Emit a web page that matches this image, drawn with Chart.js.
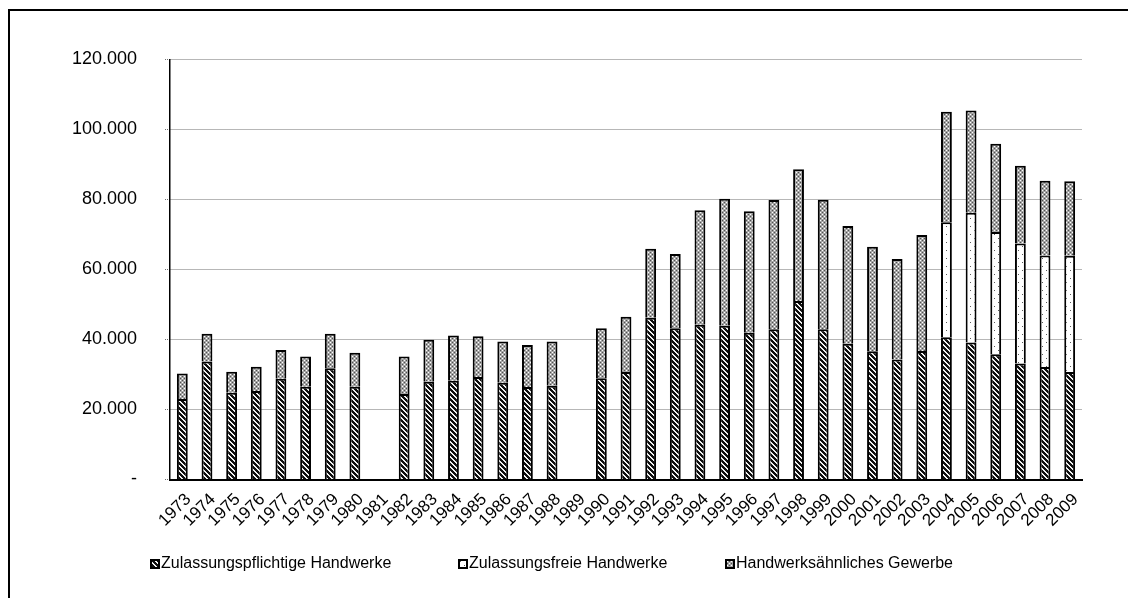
<!DOCTYPE html>
<html>
<head>
<meta charset="utf-8">
<script src="https://cdn.jsdelivr.net/npm/chart.js@4"></script>
<style>
  html, body { margin: 0; padding: 0; background: #fff; overflow: hidden; }
  #wrap { position: relative; width: 1128px; height: 598px; }
  #frame { position: absolute; left: 8px; top: 9px; width: 1300px; height: 800px;
           border-left: 2px solid #000; border-top: 2px solid #000; }
  canvas#chart { position: absolute; left: 0; top: 0; }
  .leg { position: absolute; top: 554px; font: 16px 'Liberation Sans', Arial, sans-serif;
         color: #000; white-space: nowrap; line-height: 18px; }
  .leg canvas { vertical-align: -1px; margin-right: 1px; }
</style>
</head>
<body>
<div id="wrap">
  <div id="frame"></div>
  <canvas id="chart" width="1128" height="598"></canvas>
</div>
<script>
// Jahre
const years = ['1973','1974','1975','1976','1977','1978','1979','1980','1981','1982',
  '1983','1984','1985','1986','1987','1988','1989','1990','1991','1992','1993','1994',
  '1995','1996','1997','1998','1999','2000','2001','2002','2003','2004','2005','2006',
  '2007','2008','2009'];

const pflichtig = [23000, 33700, 24800, 25300, 28800, 26500, 31800, 26500, null,
  24400, 27900, 28200, 29300, 27600, 26400, 26800, null,
  28900, 30700, 46200, 43200, 44200, 43900, 41900, 42900, 51000, 42900, 38800,
  36600, 34300, 36700, 40600, 39100, 35800, 33100, 32100, 30700];

const frei = [null, null, null, null, null, null, null, null, null, null,
  null, null, null, null, null, null, null, null, null, null, null, null,
  null, null, null, null, null, null, null, null, null,
  32900, 37100, 34900, 34300, 31900, 33200];

const aehnlich = [7300, 7900, 6000, 6900, 8200, 8600, 9800, 9700, null,
  10700, 12000, 12900, 11600, 11800, 12000, 12600, null,
  14300, 15800, 19700, 21200, 32700, 36300, 34700, 36900, 37600, 37000, 33600,
  29900, 28700, 33100, 31500, 29200, 25200, 22200, 21300, 21300];

const seriesNames = ['Zulassungspflichtige Handwerke', 'Zulassungsfreie Handwerke', 'Handwerksähnliches Gewerbe'];
const yTicks = [0, 20000, 40000, 60000, 80000, 100000, 120000];

// kleine Musterkacheln
function tile(size, fn) {
  const c = document.createElement('canvas');
  c.width = size; c.height = size;
  const cx = c.getContext('2d');
  const img = cx.createImageData(size, size);
  for (let y = 0; y < size; y++) {
    for (let x = 0; x < size; x++) {
      const v = fn(x, y);
      const i = (y * size + x) * 4;
      img.data[i] = img.data[i + 1] = img.data[i + 2] = v;
      img.data[i + 3] = 255;
    }
  }
  cx.putImageData(img, 0, 0);
  return c;
}

const stripeTile = tile(5, (x, y) => ((((x - y) % 5) + 5) % 5 < 3 ? 15 : 240));
const dotTile = tile(8, (x, y) => ((x === 2 && y === 2) || (x === 6 && y === 6)) ? 90 : 255);
const checkTile = tile(4, (x, y) => {
  if ((x === 0 && y === 0) || (x === 2 && y === 2)) return 255;
  if ((x === 2 && y === 0) || (x === 0 && y === 2)) return 80;
  return 165;
});

const ctx = document.getElementById('chart').getContext('2d');
const pStripe = ctx.createPattern(stripeTile, 'repeat');
const pDot = ctx.createPattern(dotTile, 'repeat');
const pCheck = ctx.createPattern(checkTile, 'repeat');

function fmt(v) {
  if (v === 0) return '-';
  return String(v).replace(/\B(?=(\d{3})+(?!\d))/g, '.');
}

const yFont = { family: "'Liberation Sans', Arial, sans-serif", size: 18 };
const xFont = { family: "'Liberation Sans', Arial, sans-serif", size: 17 };

const barStyle = {
  borderColor: '#000',
  borderWidth: 2,
  borderSkipped: 'start',
  barPercentage: 0.44,
  categoryPercentage: 1.0
};

new Chart(ctx, {
  type: 'bar',
  data: {
    labels: years,
    datasets: [
      { label: seriesNames[0], data: pflichtig, backgroundColor: pStripe, ...barStyle },
      { label: seriesNames[1], data: frei, backgroundColor: pDot, ...barStyle },
      { label: seriesNames[2], data: aehnlich, backgroundColor: pCheck, ...barStyle }
    ]
  },
  options: {
    responsive: false,
    animation: false,
    layout: { padding: { left: 0, right: 46, top: 59.3, bottom: 0 } },
    plugins: { legend: { display: false }, tooltip: { enabled: false } },
    scales: {
      x: {
        stacked: true,
        grid: { display: false },
        border: { color: '#000', width: 2 },
        ticks: { color: '#000', font: xFont, minRotation: 45, maxRotation: 45, autoSkip: false,
                 padding: 2, labelOffset: 6 },
        afterFit: (s) => { s.height = 598 - 479.5; }
      },
      y: {
        stacked: true,
        min: 0,
        max: 120000,
        afterBuildTicks: (s) => { s.ticks = yTicks.map(v => ({ value: v })); },
        grid: { color: '#6e6e6e', lineWidth: 1, tickLength: 5, tickColor: '#6e6e6e', tickBorderDash: [1, 1] },
        border: { color: '#000', width: 1.5, dash: [1, 1] },
        ticks: { color: '#000', font: yFont, padding: 28, callback: (v) => fmt(v) },
        afterFit: (s) => { s.width = 170; }
      }
    }
  }
});

// Legende unten
const legendPos = [150, 458, 725];
const legendFill = [stripeTile, dotTile, checkTile];
const wrap = document.getElementById('wrap');
seriesNames.forEach((name, i) => {
  const d = document.createElement('div');
  d.className = 'leg';
  d.style.left = legendPos[i] + 'px';
  const sw = document.createElement('canvas');
  sw.width = 10; sw.height = 10;
  const sc = sw.getContext('2d');
  sc.fillStyle = sc.createPattern(legendFill[i], 'repeat');
  sc.fillRect(0, 0, 10, 10);
  sc.strokeStyle = '#000'; sc.lineWidth = 2;
  sc.strokeRect(1, 1, 8, 8);
  d.appendChild(sw);
  d.appendChild(document.createTextNode(name));
  wrap.appendChild(d);
});
</script>
</body>
</html>
